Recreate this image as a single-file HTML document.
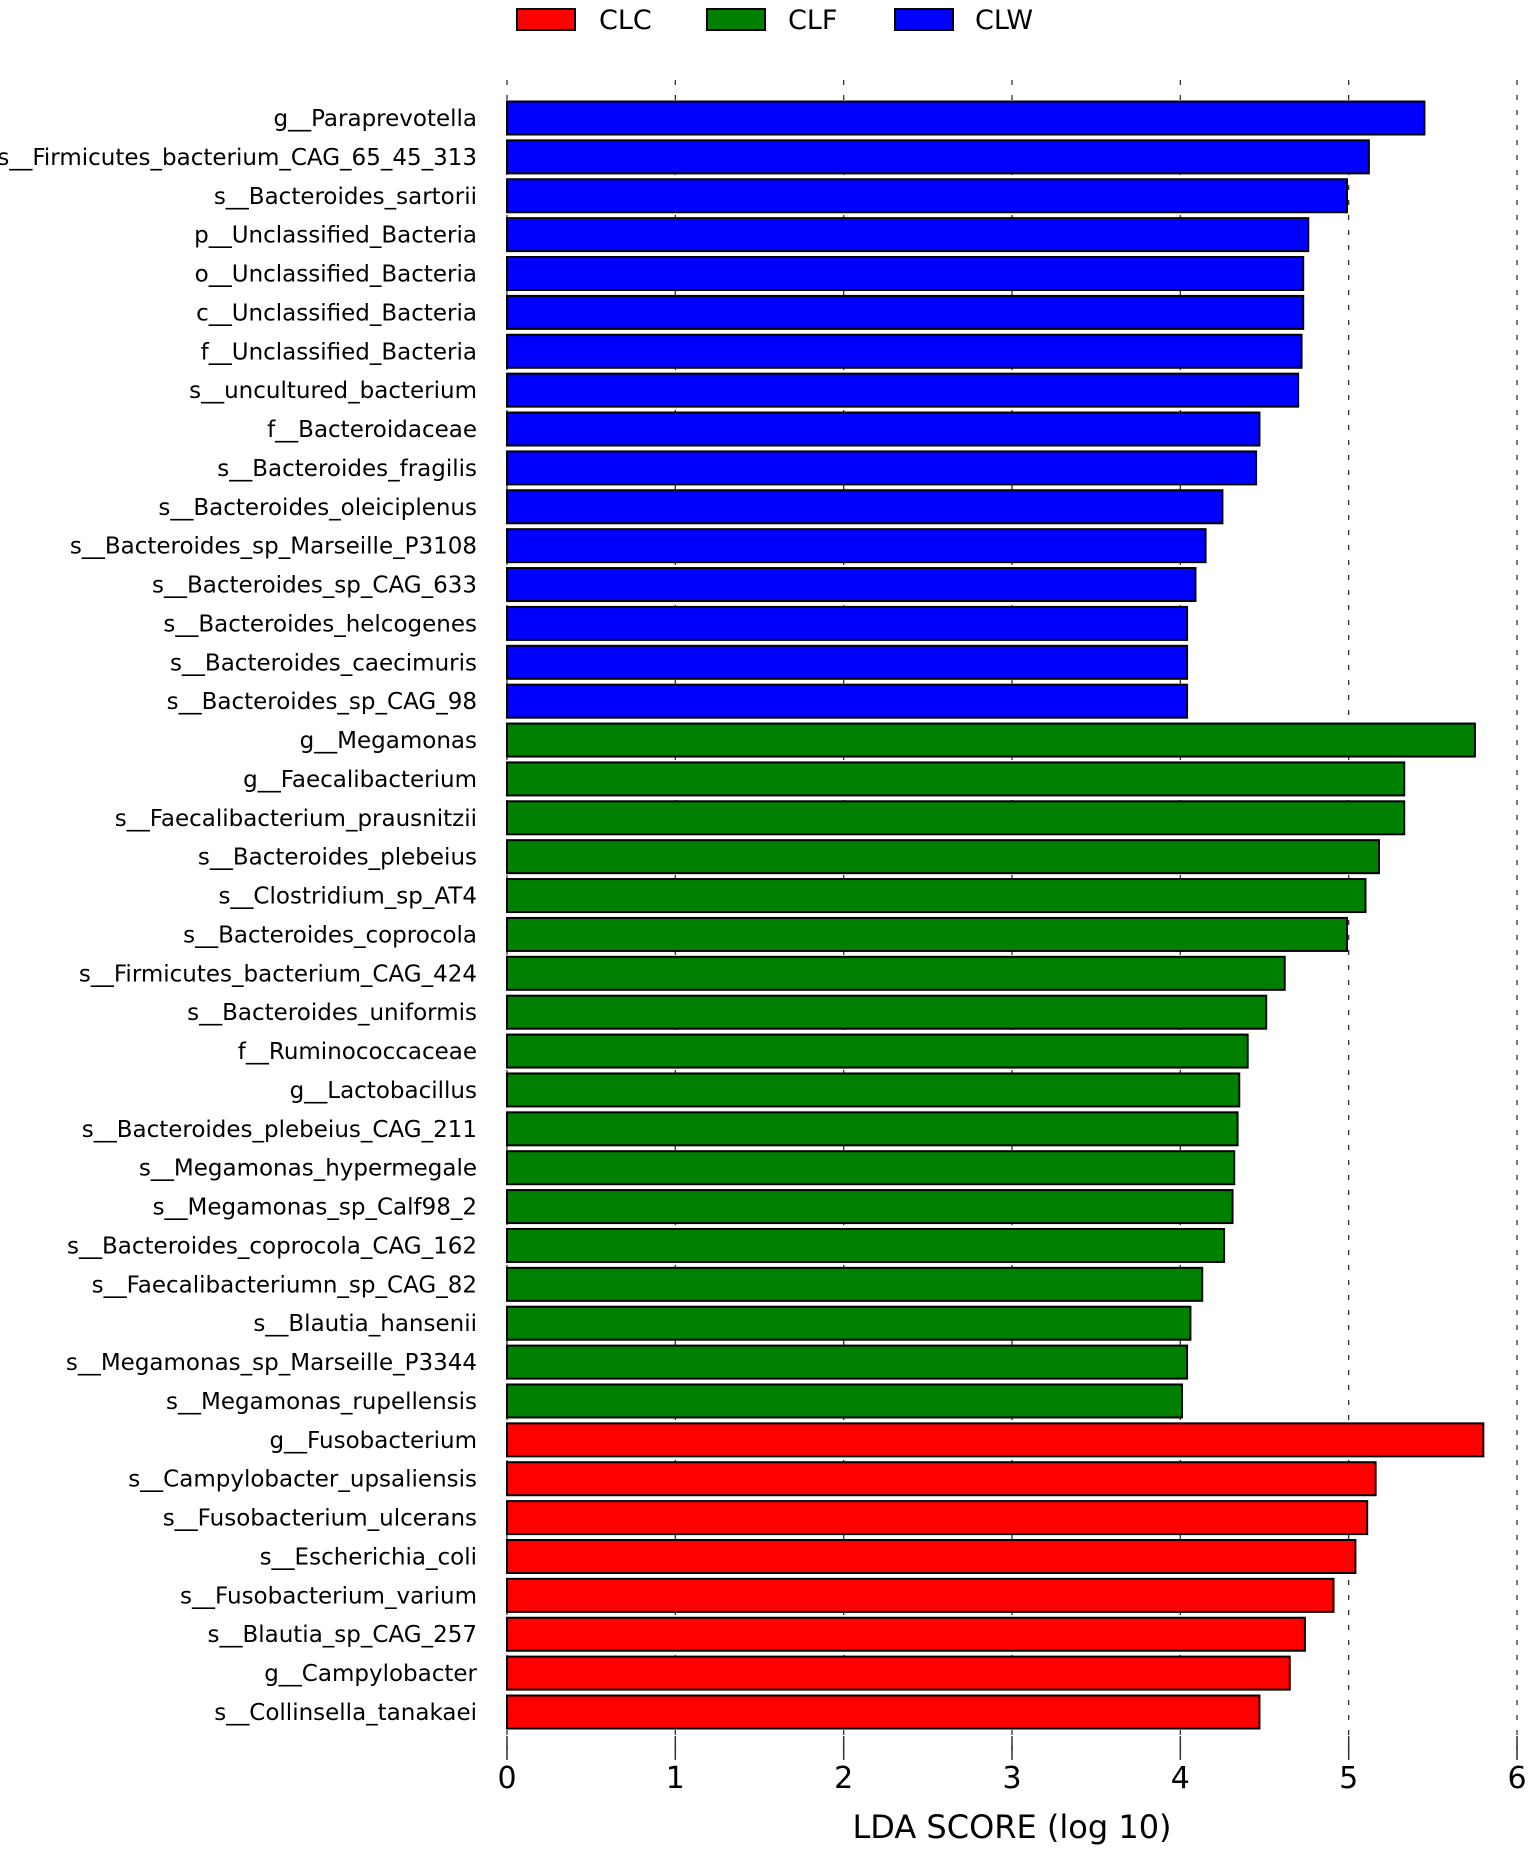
<!DOCTYPE html>
<html><head><meta charset="utf-8"><style>
html,body{margin:0;padding:0;background:#fff;}
svg{display:block;font-family:"DejaVu Sans","Liberation Sans",sans-serif;}
</style></head><body>
<svg id="chart" width="1535" height="1850" viewBox="0 0 1535 1850" xmlns="http://www.w3.org/2000/svg">
<g id="legend">
 <rect x="517" y="9" width="58" height="21" fill="#ff0000" stroke="#000" stroke-width="2"/>
 <text x="599" y="29" font-size="27">CLC</text>
 <rect x="707" y="9" width="58" height="21" fill="#008000" stroke="#000" stroke-width="2"/>
 <text x="788" y="29" font-size="27">CLF</text>
 <rect x="895" y="9" width="58" height="21" fill="#0000ff" stroke="#000" stroke-width="2"/>
 <text x="975" y="29" font-size="27">CLW</text>
</g>
<g id="grid"></g><g id="bars"></g><g id="labels"></g><g id="axis"></g>
<text x="1012" y="1838" font-size="32" text-anchor="middle">LDA SCORE (log 10)</text>
</svg>
<script>
const categories = ["g__Paraprevotella","s__Firmicutes_bacterium_CAG_65_45_313","s__Bacteroides_sartorii","p__Unclassified_Bacteria","o__Unclassified_Bacteria","c__Unclassified_Bacteria","f__Unclassified_Bacteria","s__uncultured_bacterium","f__Bacteroidaceae","s__Bacteroides_fragilis","s__Bacteroides_oleiciplenus","s__Bacteroides_sp_Marseille_P3108","s__Bacteroides_sp_CAG_633","s__Bacteroides_helcogenes","s__Bacteroides_caecimuris","s__Bacteroides_sp_CAG_98","g__Megamonas","g__Faecalibacterium","s__Faecalibacterium_prausnitzii","s__Bacteroides_plebeius","s__Clostridium_sp_AT4","s__Bacteroides_coprocola","s__Firmicutes_bacterium_CAG_424","s__Bacteroides_uniformis","f__Ruminococcaceae","g__Lactobacillus","s__Bacteroides_plebeius_CAG_211","s__Megamonas_hypermegale","s__Megamonas_sp_Calf98_2","s__Bacteroides_coprocola_CAG_162","s__Faecalibacteriumn_sp_CAG_82","s__Blautia_hansenii","s__Megamonas_sp_Marseille_P3344","s__Megamonas_rupellensis","g__Fusobacterium","s__Campylobacter_upsaliensis","s__Fusobacterium_ulcerans","s__Escherichia_coli","s__Fusobacterium_varium","s__Blautia_sp_CAG_257","g__Campylobacter","s__Collinsella_tanakaei"];
const ldaScores = [5.45,5.12,4.99,4.76,4.73,4.73,4.72,4.70,4.47,4.45,4.25,4.15,4.09,4.04,4.04,4.04,5.75,5.33,5.33,5.18,5.10,4.99,4.62,4.51,4.40,4.35,4.34,4.32,4.31,4.26,4.13,4.06,4.04,4.01,5.80,5.16,5.11,5.04,4.91,4.74,4.65,4.47];
const groups = ["CLW","CLW","CLW","CLW","CLW","CLW","CLW","CLW","CLW","CLW","CLW","CLW","CLW","CLW","CLW","CLW","CLF","CLF","CLF","CLF","CLF","CLF","CLF","CLF","CLF","CLF","CLF","CLF","CLF","CLF","CLF","CLF","CLF","CLF","CLC","CLC","CLC","CLC","CLC","CLC","CLC","CLC"];
const tickValues = [0,1,2,3,4,5,6];
const tickLabels = ["0","1","2","3","4","5","6"];
const groupColors = {CLC:"#ff0000", CLF:"#008000", CLW:"#0000ff"};
const NS="http://www.w3.org/2000/svg";
const X0=507, X1=1517, XMAX=6;
function xScale(v){return X0+(X1-X0)*v/XMAX;}
const Y0=118, Y1=1712;
function yScale(i){return Y0+(Y1-Y0)*i/(categories.length-1);}
const BH=33;
function mk(tag,attrs,parent){const e=document.createElementNS(NS,tag);for(const k in attrs)e.setAttribute(k,attrs[k]);parent.appendChild(e);return e;}
const grid=document.getElementById('grid'),bars=document.getElementById('bars'),labels=document.getElementById('labels'),axis=document.getElementById('axis');
tickValues.forEach((t,i)=>{
  const x=xScale(t);
  const g=mk('line',{x1:x,x2:x,y1:80,y2:1760,stroke:'#333','stroke-width':1.3,'stroke-dasharray':'5,10'},grid);
  
  
  const tk=mk('line',{x1:x,x2:x,y1:1736,y2:1760,stroke:'#333','stroke-width':1.5},axis);
  
  
  const tl=mk('text',{x:x,y:1788,'font-size':30,'text-anchor':'middle'},axis);
  tl.textContent=tickLabels[i];
  
  
});
categories.forEach((c,i)=>{
  const y=yScale(i);
  const r=mk('rect',{x:X0,y:y-BH/2,width:xScale(ldaScores[i])-X0,height:BH,fill:groupColors[groups[i]],stroke:'#000','stroke-width':2},bars);
  
  
  const t=mk('text',{x:477,y:y+8,'font-size':23,'text-anchor':'end'},labels);
  t.textContent=c;
  
  
});
</script>
</body></html>
